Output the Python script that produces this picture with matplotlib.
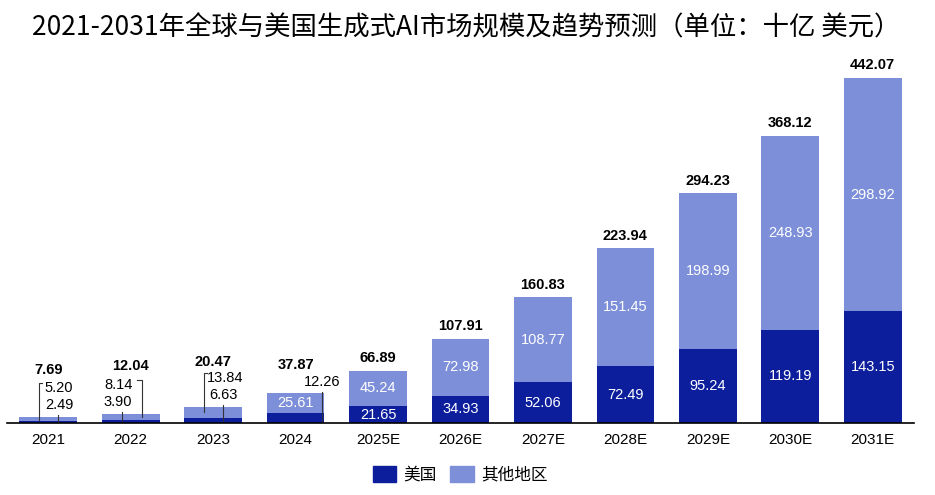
import matplotlib
matplotlib.use("Agg")
import matplotlib.pyplot as plt
from matplotlib.patches import Patch

plt.rcParams['font.family'] = ['Liberation Sans', 'Noto Sans CJK SC']

# data (十亿美元)
years = ['2021', '2022', '2023', '2024', '2025E', '2026E', '2027E',
         '2028E', '2029E', '2030E', '2031E']
us = [2.49, 3.90, 6.63, 12.26, 21.65, 34.93, 52.06, 72.49, 95.24, 119.19, 143.15]
other = [5.20, 8.14, 13.84, 25.61, 45.24, 72.98, 108.77, 151.45, 198.99, 248.93, 298.92]
totals = [7.69, 12.04, 20.47, 37.87, 66.89, 107.91, 160.83, 223.94, 294.23, 368.12, 442.07]

dark = '#0c1e9c'
light = '#7d8fd9'

fig = plt.figure(figsize=(9.35, 4.95), dpi=100)
ax = fig.add_axes([0.0075, 0.1455, 0.970, 0.7253])

x = list(range(len(years)))
ax.bar(x, us, width=0.70, color=dark)
ax.bar(x, other, width=0.70, bottom=us, color=light)

ax.set_xlim(-0.5, 10.5)
ax.set_ylim(0, 460)
ax.set_xticks(x)
ax.set_xticklabels(years, fontsize=11)
ax.tick_params(axis='x', length=0, pad=7)
ax.set_yticks([])
for s in ['top', 'right', 'left']:
    ax.spines[s].set_visible(False)
ax.spines['bottom'].set_linewidth(1.2)

fs = 10.5
# segment labels inside the bigger bars
for i in range(4, len(years)):
    ax.text(i, us[i] / 2, f'{us[i]:.2f}', ha='center', va='center',
            color='white', fontsize=fs)
    ax.text(i, us[i] + other[i] / 2, f'{other[i]:.2f}', ha='center',
            va='center', color='white', fontsize=fs)
    ax.annotate(f'{totals[i]:.2f}', (i, totals[i]), xytext=(0, 4),
                textcoords='offset points', ha='center', va='bottom',
                fontsize=fs, fontweight='bold')
ax.text(3, us[3] + other[3] / 2, f'{other[3]:.2f}', ha='center',
        va='center', color='white', fontsize=fs)

# small bars: labels outside with leader lines
lw = 0.8
lc = '#333333'
# 2021
ax.text(-0.04, 44.8, f'{other[0]:.2f}', ha='left', va='center', fontsize=fs)
ax.plot([-0.07, -0.11, -0.11], [51.2, 51.2, 3.8], color=lc, lw=lw)
ax.text(-0.04, 23, f'{us[0]:.2f}', ha='left', va='center', fontsize=fs)
ax.plot([0.12, 0.12], [10.2, 0], color=lc, lw=lw)
ax.text(0, 68, f'{totals[0]:.2f}', ha='center', va='center',
        fontsize=fs, fontweight='bold')
# 2022
ax.text(1.02, 48.7, f'{other[1]:.2f}', ha='right', va='center', fontsize=fs)
ax.plot([1.08, 1.14, 1.14], [55, 55, 7.7], color=lc, lw=lw)
ax.text(1.02, 27, f'{us[1]:.2f}', ha='right', va='center', fontsize=fs)
ax.plot([0.90, 0.90], [14, 0], color=lc, lw=lw)
ax.text(1, 73, f'{totals[1]:.2f}', ha='center', va='center',
        fontsize=fs, fontweight='bold')
# 2023
ax.text(1.93, 57.7, f'{other[2]:.2f}', ha='left', va='center', fontsize=fs)
ax.plot([1.93, 1.89, 1.89], [64, 64, 14], color=lc, lw=lw)
ax.text(2.12, 35.9, f'{us[2]:.2f}', ha='center', va='center', fontsize=fs)
ax.plot([2.12, 2.12], [23, 0], color=lc, lw=lw)
ax.text(2, 78, f'{totals[2]:.2f}', ha='center', va='center',
        fontsize=fs, fontweight='bold')
# 2024
ax.text(3.32, 52.5, f'{us[3]:.2f}', ha='center', va='center', fontsize=fs)
ax.plot([3.32, 3.32], [39.7, 0], color=lc, lw=lw)
ax.text(3, 74.3, f'{totals[3]:.2f}', ha='center', va='center',
        fontsize=fs, fontweight='bold')

fig.text(0.499, 0.943, '2021-2031年全球与美国生成式AI市场规模及趋势预测（单位：十亿 美元）',
         ha='center', va='center', fontsize=19,
         family=['Noto Sans CJK SC', 'DejaVu Sans'])

handles = [Patch(color=dark, label='美国'), Patch(color=light, label='其他地区')]
fig.legend(handles=handles, loc='center', bbox_to_anchor=(460 / 935, 1 - 475 / 495),
           ncol=2, frameon=False, prop={'family': 'Noto Sans CJK SC', 'size': 12},
           handlelength=1.4, handleheight=1.05, handletextpad=0.42,
           columnspacing=0.85)

fig.savefig('out.png', dpi=100)
